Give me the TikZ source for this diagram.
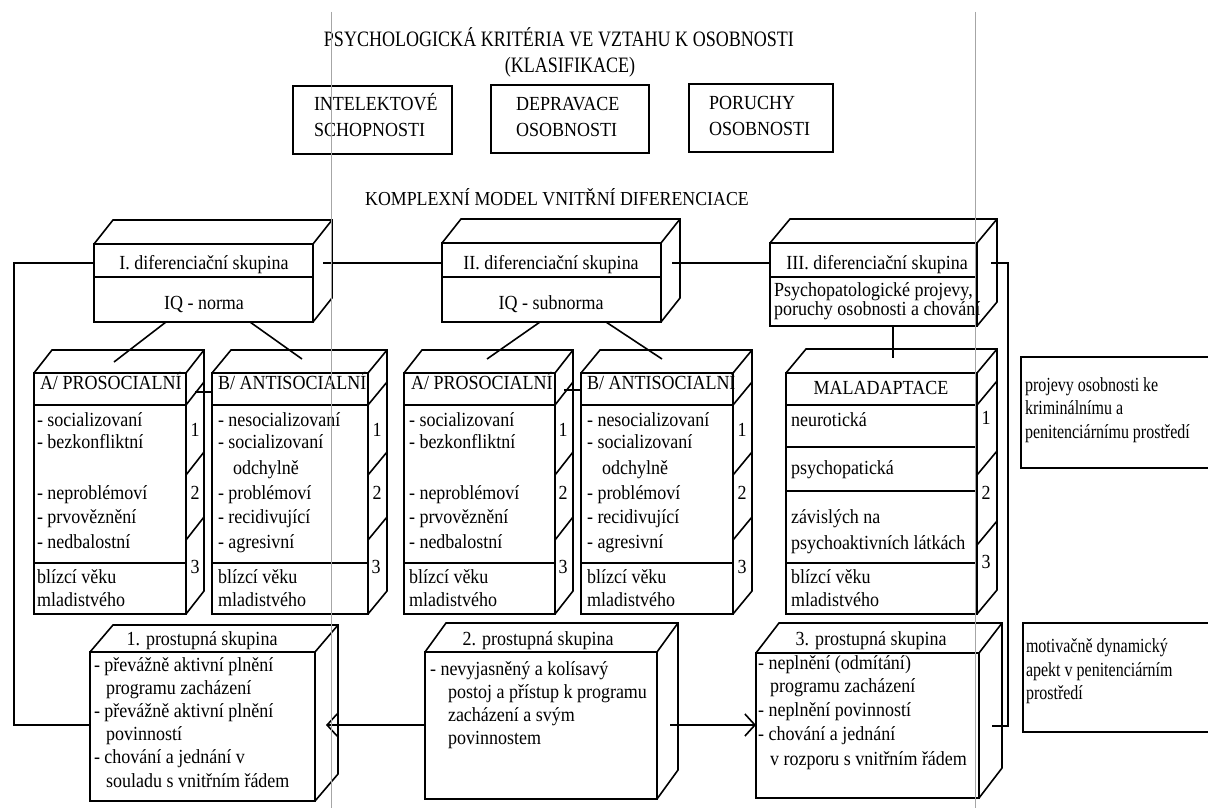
\documentclass[tikz,border=0pt]{standalone}
\usepackage{fontspec}
\setmainfont[FakeStretch=0.9]{Liberation Serif}
\newfontfamily\titlefont[FakeStretch=0.82]{Liberation Serif}
\newfontfamily\narrowfont[FakeStretch=0.8]{Liberation Serif}
\usetikzlibrary{calc,fit,arrows.meta}
\newcounter{lnno}
\newcommand\TL[3]{\stepcounter{lnno}\node[t,anchor=base west] (l\thelnno) at (#1,#2) {#3};}
\newcommand\TN[3]{\stepcounter{lnno}\node[t,font=\narrowfont\fontsize{10}{12}\selectfont,anchor=base west] (l\thelnno) at (#1,#2) {#3};}
\newcommand\TC[3]{\stepcounter{lnno}\node[t,anchor=base] (l\thelnno) at (#1,#2) {#3};}
\newcommand\NUM[3]{\stepcounter{lnno}\node[t,anchor=center] (l\thelnno) at (#1,#2) {#3};}
% cuboid: name, x1, y1, x2, y2, dx, dy
\newcommand\cub[7]{%
  \node[box, fit={(#2,#3)(#4,#5)}] (#1) {};
  \draw[ln] (#1.north west) -- ++(#6,-#7) -- ($(#1.north east)+(#6,-#7)$) -- ($(#1.south east)+(#6,-#7)$) -- (#1.south east);
  \draw[ln] (#1.north east) -- ++(#6,-#7);
}
\newcommand\sd[4]{\draw[ln] (#1,#2) -- ++(#3,-#4);}
\newcommand\hl[3]{\draw[ln] (#1,#3) -- (#2,#3);}
\begin{document}
\begin{tikzpicture}[x=0.5pt,y=-0.5pt,
  ln/.style={line width=0.8pt},
  box/.style={draw,line width=0.8pt,inner sep=0pt,outer sep=0pt},
  t/.style={font=\fontsize{10}{12}\selectfont,inner sep=0pt,outer sep=0pt},
  ttl/.style={font=\titlefont\fontsize{11}{13}\selectfont,inner sep=0pt,outer sep=0pt},
  sub/.style={font=\fontsize{9.9}{12}\selectfont,inner sep=0pt,outer sep=0pt},
  scan/.style={draw=black!35,line width=0.5pt},
  arr/.style={ln,-{Straight Barb[length=5pt,width=11pt]}}]
\useasboundingbox (0,0) rectangle (1208,808);
\clip (0,0) rectangle (1208,808);
\fill[white] (0,0) rectangle (1208,808);

% titles
\node[ttl,anchor=base] (tt1) at (559,47) {PSYCHOLOGICKÁ KRITÉRIA VE VZTAHU K OSOBNOSTI};
\node[ttl,anchor=base] (tt2) at (570,73) {(KLASIFIKACE)};
\node[sub,anchor=base] (tt3) at (557,205) {KOMPLEXNÍ MODEL VNITŘNÍ DIFERENCIACE};

% top boxes
\node[box,fit={(293,86)(452,154)}] (k1) {};
\node[box,fit={(491,85)(649,153)}] (k2) {};
\node[box,fit={(689,84)(833,152)}] (k3) {};
\TL{314}{111}{INTELEKTOVÉ}
\TL{314}{136}{SCHOPNOSTI}
\TL{516}{111}{DEPRAVACE}
\TL{516}{136}{OSOBNOSTI}
\TL{709}{110}{PORUCHY}
\TL{709}{135}{OSOBNOSTI}

% ===== differentiation groups =====
\cub{d1}{94}{244}{313}{322}{19}{24}
\hl{94}{313}{277}
\TC{204}{269}{I. diferenciační skupina}
\TC{204}{309}{IQ - norma}

\cub{d2}{442}{243}{661}{322}{19}{24}
\hl{442}{661}{277}
\TC{551}{269}{II. diferenciační skupina}
\TC{551}{309}{IQ - subnorma}

\cub{d3}{770}{243}{977}{326}{20}{24}
\hl{770}{977}{277}
\TC{877}{269}{III. diferenciační skupina}
\TL{774}{296}{Psychopatologické projevy,}
\TL{774}{315}{poruchy osobnosti a chování}

% ===== A/B boxes group I =====
\cub{a1}{34}{373}{186}{614}{18}{23}
\hl{34}{186}{405}\hl{34}{186}{563}
\sd{186}{405}{18}{23}\sd{186}{475}{18}{23}\sd{186}{540}{18}{23}
\TL{40}{389}{A/ PROSOCIALNÍ}
\TL{37}{426}{- socializovaní}
\TL{37}{448}{- bezkonfliktní}
\TL{37}{499}{- neproblémoví}
\TL{37}{523}{- prvověznění}
\TL{37}{548}{- nedbalostní}
\TL{37}{583}{blízcí věku}
\TL{37}{606}{mladistvého}
\NUM{195}{430}{1}\NUM{195}{493}{2}\NUM{195}{567}{3}

\cub{b1}{212}{373}{368}{614}{19}{23}
\hl{212}{368}{405}\hl{212}{368}{563}
\sd{368}{405}{19}{23}\sd{368}{475}{19}{23}\sd{368}{540}{19}{23}
\TL{218}{389}{B/ ANTISOCIALNÍ}
\TL{218}{426}{- nesocializovaní}
\TL{218}{448}{- socializovaní}
\TL{233}{474}{odchylně}
\TL{218}{499}{- problémoví}
\TL{218}{523}{- recidivující}
\TL{218}{548}{- agresivní}
\TL{218}{583}{blízcí věku}
\TL{218}{606}{mladistvého}
\NUM{377}{430}{1}\NUM{377}{493}{2}\NUM{376}{567}{3}

% ===== A/B boxes group II =====
\cub{a2}{404}{373}{555}{614}{18}{23}
\hl{404}{555}{405}\hl{404}{555}{563}
\sd{555}{405}{18}{23}\sd{555}{475}{18}{23}\sd{555}{540}{18}{23}
\TL{411}{389}{A/ PROSOCIALNÍ}
\TL{409}{426}{- socializovaní}
\TL{409}{448}{- bezkonfliktní}
\TL{409}{499}{- neproblémoví}
\TL{409}{523}{- prvověznění}
\TL{409}{548}{- nedbalostní}
\TL{409}{583}{blízcí věku}
\TL{409}{606}{mladistvého}
\NUM{563}{430}{1}\NUM{563}{493}{2}\NUM{563}{567}{3}

\cub{b2}{581}{373}{733}{614}{19}{23}
\hl{581}{733}{405}\hl{581}{733}{563}
\sd{733}{405}{19}{23}\sd{733}{475}{19}{23}\sd{733}{540}{19}{23}
\TL{587}{389}{B/ ANTISOCIALNÍ}
\TL{587}{426}{- nesocializovaní}
\TL{587}{448}{- socializovaní}
\TL{602}{474}{odchylně}
\TL{587}{499}{- problémoví}
\TL{587}{523}{- recidivující}
\TL{587}{548}{- agresivní}
\TL{587}{583}{blízcí věku}
\TL{587}{606}{mladistvého}
\NUM{742}{430}{1}\NUM{742}{493}{2}\NUM{742}{567}{3}

% ===== MALADAPTACE =====
\cub{m}{786}{373}{977}{614}{20}{24}
\hl{786}{977}{405}\hl{786}{977}{447}\hl{786}{977}{491}\hl{786}{977}{563}
\sd{977}{405}{20}{24}\sd{977}{475}{20}{24}\sd{977}{545}{20}{24}
\TC{881}{394}{MALADAPTACE}
\TL{791}{426}{neurotická}
\TL{791}{474}{psychopatická}
\TL{791}{523}{závislých na}
\TL{791}{549}{psychoaktivních látkách}
\TL{791}{583}{blízcí věku}
\TL{791}{606}{mladistvého}
\NUM{986}{418}{1}\NUM{986}{493}{2}\NUM{986}{562}{3}

% ===== side notes =====
\node[box,fit={(1021,357)(1230,468)}] (r1) {};
\TN{1025}{391}{projevy osobnosti ke}
\TN{1025}{414}{kriminálnímu a}
\TN{1025}{438}{penitenciárnímu prostředí}
\node[box,fit={(1023,623)(1230,732)}] (r2) {};
\TN{1026}{652}{motivačně dynamický}
\TN{1026}{676}{apekt v penitenciárním}
\TN{1026}{699}{prostředí}

% ===== prostupné skupiny =====
\cub{p1}{90}{652}{315}{801}{23}{27}
\TC{202}{645}{1. prostupná skupina}
\TL{94}{671}{- převážně aktivní plnění}
\TL{106}{694}{programu zacházení}
\TL{94}{717}{- převážně aktivní plnění}
\TL{106}{740}{povinností}
\TL{94}{763}{- chování a jednání v}
\TL{106}{787}{souladu s vnitřním řádem}

\cub{p2}{425}{652}{657}{799}{21}{29}
\TC{538}{645}{2. prostupná skupina}
\TL{430}{675}{- nevyjasněný a kolísavý}
\TL{448}{698}{postoj a přístup k programu}
\TL{448}{721}{zacházení a svým}
\TL{448}{744}{povinnostem}

\cub{p3}{756}{653}{979}{798}{23}{30}
\TC{871}{645}{3. prostupná skupina}
\TL{758}{669}{- neplnění (odmítání)}
\TL{770}{692}{programu zacházení}
\TL{758}{716}{- neplnění povinností}
\TL{758}{740}{- chování a jednání}
\TL{770}{765}{v rozporu s vnitřním řádem}

% ===== connectors =====
\coordinate (c1) at (323,263);
\coordinate (c2) at (672,263);
\coordinate (c3) at (991,263);
\coordinate (lf) at (14,263);
\coordinate (rt) at (1008,263);
\coordinate (p1s) at (326,725);
\coordinate (p2s) at (670,725);
\coordinate (p3s) at (992,726);
\draw[ln] (d1.west |- c1) -- (lf) |- (p1.west |- p1s);
\draw[ln] (c1) -- (d2.west |- c1);
\draw[ln] (c2) -- (d3.west |- c2);
\draw[ln] (c3) -- (rt) |- (p3s);
\draw[ln] (d1.south -| 166,0) -- (114,362);
\draw[ln] (d1.south -| 250,0) -- (302,359);
\draw[ln] (d2.south -| 540,0) -- (487,359);
\draw[ln] (d2.south -| 606,0) -- (662,359);
\draw[ln] (d3.south -| 893,0) -- (893,358);
\coordinate (ab1) at (195,392);
\coordinate (ab2) at (564,390);
\draw[ln] (ab1) -- (b1.west |- ab1);
\draw[ln] (ab2) -- (b2.west |- ab2);
\draw[arr] (p2.west |- p1s) -- (p1s);
\draw[arr] (p2s) -- (p3.west |- p2s);

% scan artefacts
\draw[scan] (331,12) -- (331,808);
\draw[scan] (975,12) -- (975,808);
\end{tikzpicture}
\end{document}
